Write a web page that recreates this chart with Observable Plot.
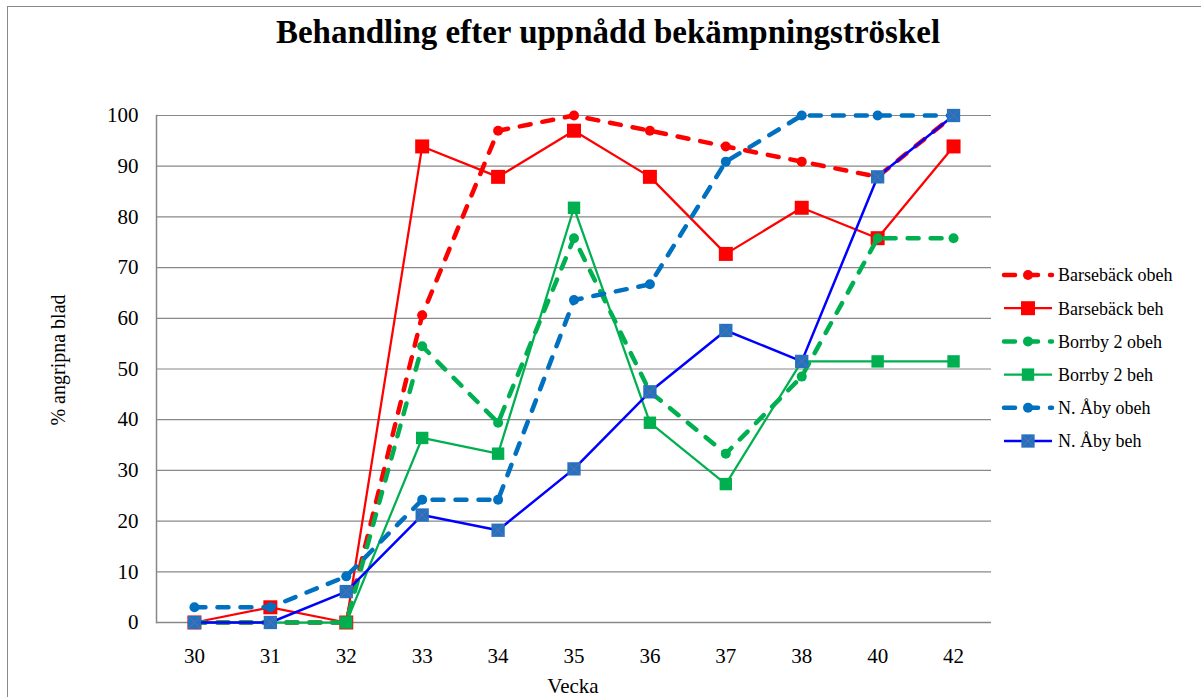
<!DOCTYPE html>
<html>
<head>
<meta charset="utf-8">
<script src="https://cdn.jsdelivr.net/npm/d3@7"></script>
<script src="https://cdn.jsdelivr.net/npm/@observablehq/plot@0.6"></script>
<style>
  html, body { margin: 0; padding: 0; background: #fff; }
  #wrap { position: relative; width: 1201px; height: 697px; overflow: hidden; font-family: "Liberation Serif", "Times New Roman", Times, serif; }
  #wrap svg, #wrap svg text { font-family: "Liberation Serif", "Times New Roman", Times, serif !important; }
  #border { position: absolute; left: 7px; top: 6px; width: 1300px; height: 800px; border-left: 1.5px solid #8a8a8a; border-top: 1.5px solid #8a8a8a; }
  #title { position: absolute; left: 0; width: 1216px; top: 14px; text-align: center; font-weight: bold; font-size: 33px; color: #000; }
  #ytitle { position: absolute; left: 58px; top: 360px; transform: translate(-50%, -50%) rotate(-90deg); font-size: 20px; white-space: nowrap; color: #000; }
  #xtitle { position: absolute; left: 573px; top: 674px; transform: translateX(-50%); font-size: 21px; color: #000; white-space: nowrap; }
  #chart { position: absolute; left: 0; top: 0; }
  #legend { position: absolute; left: 995px; top: 255px; }
</style>
</head>
<body>
<div id="wrap">
  <div id="border"></div>
  <div id="chart"></div>
  <div id="title">Behandling efter uppnådd bekämpningströskel</div>
  <div id="ytitle">% angripna blad</div>
  <div id="xtitle">Vecka</div>
  <div id="legend"></div>
</div>
<script>
const weeks = ["30","31","32","33","34","35","36","37","38","40","42"];
const yTicks = [0,10,20,30,40,50,60,70,80,90,100];

const barsebackObeh = [0, 0, 0, 60.6, 97.0, 100, 97.0, 93.9, 90.9, 87.9, 100];
const barsebackBeh  = [0, 3.0, 0, 93.9, 87.9, 97.0, 87.9, 72.7, 81.8, 75.8, 93.9];
const borrbyObeh    = [0, 0, 0, 54.5, 39.4, 75.8, 45.5, 33.3, 48.5, 75.8, 75.8];
const borrbyBeh     = [0, 0, 0, 36.4, 33.3, 81.8, 39.4, 27.3, 51.5, 51.5, 51.5];
const abyObeh       = [3.0, 3.0, 9.1, 24.2, 24.2, 63.6, 66.7, 90.9, 100, 100, 100];
const abyBeh        = [0, 0, 6.1, 21.2, 18.2, 30.3, 45.5, 57.6, 51.5, 87.9, 100];

const seriesNames = ["Barsebäck obeh","Barsebäck beh","Borrby 2 obeh","Borrby 2 beh","N. Åby obeh","N. Åby beh"];
const seriesValues = [barsebackObeh, barsebackBeh, borrbyObeh, borrbyBeh, abyObeh, abyBeh];

const styles = [
  {line:"#ff0000", width:4.5, dash:"11,12", symbol:"circle", r:5, fill:"#ff0000"},
  {line:"#ff0000", width:2.25, dash:null, symbol:"square", r:7.9, fill:"#ff0000"},
  {line:"#00b050", width:4.5, dash:"11,12", symbol:"circle", r:5, fill:"#00b050"},
  {line:"#00b050", width:2.25, dash:null, symbol:"square", r:7, fill:"#00b050"},
  {line:"#0070c0", width:4.5, dash:"11,12", symbol:"circle", r:5, fill:"#0070c0"},
  {line:"#0000ff", width:2.5, dash:null, symbol:"square", r:7.5, fill:"#2272c0", cross:true}
];

const tables = seriesValues.map((vals, i) => weeks.map((w, j) => ({week: w, value: vals[j], series: seriesNames[i]})));

const marks = [
  Plot.gridY(yTicks, {stroke: "#888888", strokeOpacity: 1, strokeWidth: 1.2}),
  Plot.axisY(yTicks, {tickSize: 0, tickPadding: 18, fontSize: 21}),
  Plot.axisX({tickSize: 0, tickPadding: 26, fontSize: 21}),
  Plot.ruleY([0], {stroke: "#888888", strokeWidth: 1.5}),
  Plot.frame({anchor: "left", stroke: "#888888", strokeWidth: 1.5})
];

tables.forEach((t, i) => {
  const s = styles[i];
  marks.push(Plot.line(t, {x: "week", y: "value", stroke: s.line, strokeWidth: s.width,
    strokeDasharray: s.dash || undefined, strokeLinecap: s.dash ? "round" : "butt", strokeLinejoin: "round"}));
  marks.push(Plot.dot(t, {x: "week", y: "value", symbol: s.symbol, r: s.r, fill: s.fill, stroke: "none"}));
  if (s.cross) {
    marks.push(Plot.dot(t, {x: "week", y: "value", symbol: "times", r: 5.5, stroke: "#6b6aa8", strokeWidth: 1, fill: "none"}));
  }
});

const chart = Plot.plot({
  width: 1201,
  height: 697,
  marginLeft: 156,
  marginRight: 210,
  marginTop: 115,
  marginBottom: 75,
  style: {fontSize: "21px", color: "#000", background: "transparent"},
  x: {type: "point", domain: weeks, padding: 0.5, round: false, label: null},
  y: {domain: [0, 100], label: null},
  marks
});
document.getElementById("chart").appendChild(chart);

// Legend
const lg = d3.select("#legend").append("svg").attr("width", 206).attr("height", 200)
  .style("font-size", "18px");
seriesNames.forEach((name, i) => {
  const s = styles[i];
  const cy = 20 + i * 33.2;
  const g = lg.append("g");
  g.append("line").attr("x1", 9).attr("x2", 57).attr("y1", cy).attr("y2", cy)
    .attr("stroke", s.line).attr("stroke-width", s.width)
    .attr("stroke-dasharray", s.dash ? "11,12" : null)
    .attr("stroke-linecap", s.dash ? "round" : "butt");
  const sym = s.symbol === "circle" ? d3.symbolCircle : d3.symbolSquare;
  const size = Math.PI * s.r * s.r;
  g.append("path").attr("d", d3.symbol(sym, size)()).attr("transform", `translate(33,${cy})`).attr("fill", s.fill);
  if (s.cross) {
    g.append("path").attr("d", d3.symbol(d3.symbolTimes, Math.PI * 5.5 * 5.5)()).attr("transform", `translate(33,${cy})`)
      .attr("fill", "none").attr("stroke", "#6b6aa8").attr("stroke-width", 1);
  }
  g.append("text").attr("x", 63).attr("y", cy).attr("dy", "0.35em").attr("fill", "#000").text(name);
});
</script>
</body>
</html>
